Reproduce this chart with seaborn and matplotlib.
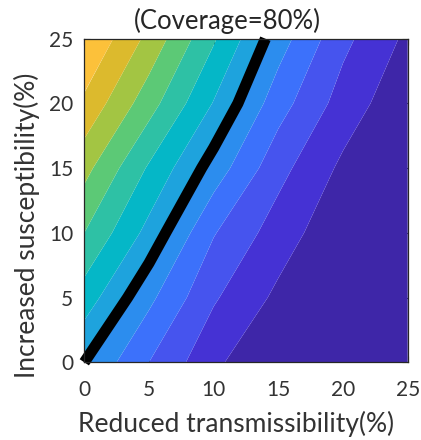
import numpy as np
import pandas as pd
import matplotlib
matplotlib.use("Agg")
import matplotlib.pyplot as plt
import seaborn as sns

# Grid of the simulated outcome: columns = reduced transmissibility (%),
# rows = increased susceptibility (%)
reduced_transmissibility = [0, 5, 10, 15, 20, 25]
increased_susceptibility = [0, 5, 10, 15, 20, 25]
outcome = [
    [5.00, 3.00, 1.25, -0.19, -1.61, -3.04],
    [6.54, 4.24, 2.12, 0.78, -0.50, -1.78],
    [8.00, 5.67, 3.07, 1.51, 0.23, -1.05],
    [9.33, 6.87, 4.57, 2.33, 0.79, -0.49],
    [10.80, 8.42, 5.94, 3.43, 1.57, 0.23],
    [12.03, 9.72, 7.12, 4.47, 2.26, 0.79],
]
band_levels = [-3.5, 1, 2, 3, 4, 5, 6, 7, 8, 9, 10, 11, 12.5]
band_colors = [
    "#3E26A8", "#4532D4", "#4654EE", "#3C71FB", "#2C8DEE", "#1EA3DD",
    "#05B7C7", "#2EC1A5", "#5CC976", "#A3C543", "#DCBA2D", "#FCC13A",
]
threshold_level = 5.0
axis_ticks = [0, 5, 10, 15, 20, 25]
title_text = "(Coverage=80%)"
x_label = "Reduced transmissibility(%)"
y_label = "Increased susceptibility(%)"

sns.set_style("ticks")
plt.rcParams["font.family"] = ["Lato", "DejaVu Sans"]

W, H = 421, 440
fig = plt.figure(figsize=(W / 100, H / 100), dpi=100)
ax = fig.add_axes([84.3 / W, 77.7 / H, 323.4 / W, 323.6 / H])

grid = pd.DataFrame(outcome, index=increased_susceptibility,
                    columns=reduced_transmissibility)
X, Y = np.meshgrid(grid.columns.values, grid.index.values)
palette = sns.color_palette(band_colors)

ax.contourf(X, Y, grid.values, levels=band_levels, colors=palette,
            antialiased=True)
line = ax.contour(X, Y, grid.values, levels=[threshold_level],
                  colors="black", linewidths=8)
line.set_clip_on(False)

ax.set_xlim(0, 25)
ax.set_ylim(0, 25)
ax.set_xticks(axis_ticks)
ax.set_yticks(axis_ticks)
ax.tick_params(direction="in", top=True, right=True, length=4, width=0.8,
               color="#262626", labelsize=15, labelcolor="#333333")
ax.tick_params(axis="x", pad=13)
ax.tick_params(axis="y", pad=8)
for sp in ax.spines.values():
    sp.set_visible(True)
    sp.set_color("#262626")
    sp.set_linewidth(0.9)

fig.text(227.5 / W, 1 - 29 / H, title_text, ha="center", va="baseline",
         fontsize=18.5, color="#262626")
fig.text(235.7 / W, 8.5 / H, x_label, ha="center", va="baseline",
         fontsize=19, color="#333333")
fig.text(27 / W, 1 - 225 / H, y_label, ha="center", va="center",
         rotation=90, fontsize=19, color="#333333")

fig.savefig("out.png", dpi=100)
